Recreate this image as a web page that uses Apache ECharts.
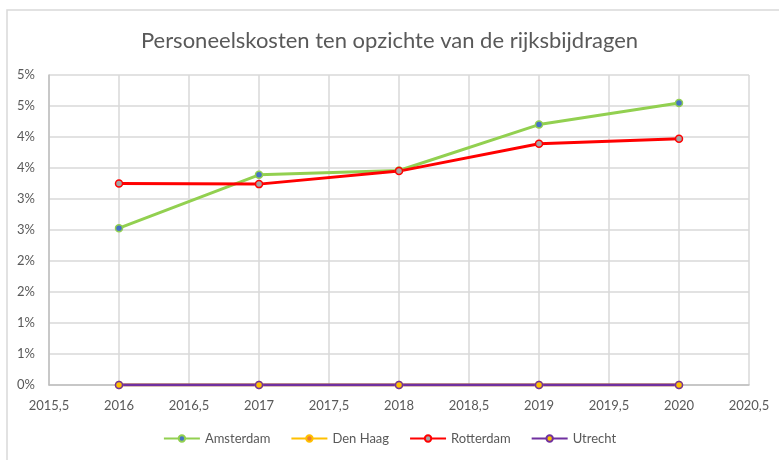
<!DOCTYPE html>
<html>
<head>
<meta charset="utf-8">
<script src="https://cdn.jsdelivr.net/npm/echarts@6/dist/echarts.min.js"></script>
<style>
  html, body { margin: 0; padding: 0; background: #fff; }
  #chart { width: 779px; height: 460px; }
</style>
</head>
<body>
<div id="chart"></div>
<script>
  const years = [2016, 2017, 2018, 2019, 2020]
  const amsterdam = [0.0253, 0.0339, 0.0346, 0.0420, 0.0455]
  const denHaag = [0, 0, 0, 0, 0]
  const rotterdam = [0.0325, 0.0324, 0.0345, 0.0389, 0.0397]
  const utrecht = [0, 0, 0, 0, 0]

  const font = 'Lato, "Open Sans", sans-serif'
  const grey = '#595959'

  const pairs = (vals) => years.map((y, i) => [y, vals[i]])

  const line = (name, vals, lineColor, fill, border) => ({
    name: name,
    type: 'line',
    data: pairs(vals),
    symbol: 'circle',
    symbolSize: 7,
    lineStyle: { color: lineColor, width: 3 },
    itemStyle: { color: fill, borderColor: border, borderWidth: 1.5 },
    emphasis: { disabled: true },
    z: 3
  })

  const chart = echarts.init(document.getElementById('chart'))
  chart.setOption({
    animation: false,
    textStyle: { fontFamily: font, color: grey },
    title: {
      text: 'Personeelskosten ten opzichte van de rijksbijdragen',
      left: 'center',
      top: 25,
      textStyle: { fontFamily: font, fontSize: 22, fontWeight: 'normal', color: grey }
    },
    grid: { left: 49, right: 30, top: 75, bottom: 75 },
    legend: {
      bottom: 10,
      left: 'center',
      itemWidth: 36,
      itemHeight: 8,
      itemGap: 20,
      textStyle: { fontFamily: font, fontSize: 13, color: grey },
      data: ['Amsterdam', 'Den Haag', 'Rotterdam', 'Utrecht']
    },
    xAxis: {
      type: 'value',
      min: 2015.5,
      max: 2020.5,
      interval: 0.5,
      axisLine: { show: true, lineStyle: { color: '#bfbfbf', width: 1.5 } },
      axisTick: { show: false },
      splitLine: { show: true, lineStyle: { color: '#d9d9d9', width: 1.5 } },
      axisLabel: {
        color: grey,
        fontSize: 13,
        margin: 14,
        formatter: (v) => String(v).replace('.', ',')
      }
    },
    yAxis: {
      type: 'value',
      min: 0,
      max: 0.05,
      interval: 0.005,
      axisLine: { show: true, lineStyle: { color: '#bfbfbf', width: 1.5 } },
      axisTick: { show: false },
      splitLine: { show: true, lineStyle: { color: '#d9d9d9', width: 1.5 } },
      axisLabel: {
        color: grey,
        fontSize: 13,
        margin: 14,
        formatter: (v) => Math.round(v * 100 + 1e-9) + '%'
      }
    },
    series: [
      line('Amsterdam', amsterdam, '#92d050', '#4472c4', '#92d050'),
      line('Den Haag', denHaag, '#ffc000', '#ed7d31', '#ffc000'),
      line('Rotterdam', rotterdam, '#ff0000', '#a5a5a5', '#ff0000'),
      line('Utrecht', utrecht, '#7030a0', '#ffc000', '#7030a0')
    ],
    graphic: [{
      type: 'polyline',
      shape: { points: [[7, 460], [7, 10], [779, 10]] },
      style: { stroke: '#d9d9d9', lineWidth: 1.5, fill: null },
      silent: true
    }]
  })
</script>
</body>
</html>
